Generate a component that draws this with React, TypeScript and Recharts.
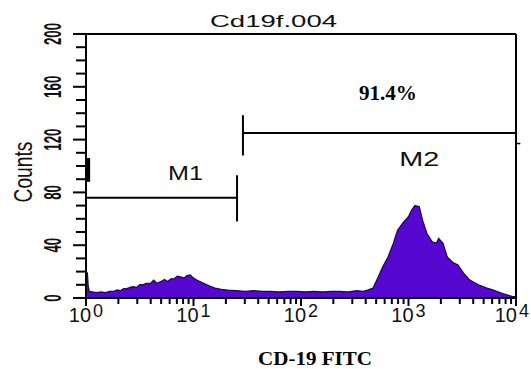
import React from 'react';
import { ComposedChart, Area, XAxis, YAxis, ReferenceLine, ReferenceDot, Label } from 'recharts';

// log10 of FITC channel (10^0 .. 10^4)
const logFluorescence = [
  0.0, 0.012, 0.02, 0.03, 0.06, 0.1, 0.14, 0.18, 0.22, 0.26, 0.29, 0.32, 0.35, 0.38, 0.41, 0.44,
  0.47, 0.5, 0.53, 0.56, 0.6, 0.63, 0.66, 0.7, 0.73, 0.76, 0.79, 0.82, 0.85, 0.88, 0.91, 0.94,
  0.97, 1.0, 1.03, 1.07, 1.11, 1.15, 1.2, 1.26, 1.32, 1.4, 1.48, 1.56, 1.64, 1.72, 1.8, 1.88,
  1.96, 2.04, 2.12, 2.2, 2.28, 2.36, 2.44, 2.52, 2.58, 2.62, 2.67, 2.72, 2.76, 2.81, 2.86, 2.9,
  2.95, 3.0, 3.03, 3.06, 3.1, 3.13, 3.17, 3.22, 3.26, 3.28, 3.32, 3.36, 3.41, 3.46, 3.51, 3.57,
  3.65, 3.73, 3.79, 3.87, 3.93, 3.97, 4.0,
];
const counts = [
  19, 19, 9, 5, 4.5, 4, 4.5, 4, 5, 5, 6, 5.5, 7, 7, 8, 8.5,
  8, 10, 10, 11, 11, 13.5, 11, 12.5, 14, 12.5, 14.5, 14.5, 16.5, 16, 15, 17,
  17.5, 15, 13.5, 12, 10.5, 9, 7.5, 6.5, 6, 5.5, 5, 5.5, 5, 5, 4.5, 5,
  5, 4.5, 5, 4.5, 5, 5, 4.5, 5.5, 5, 6, 7.5, 16, 23.5, 31, 41.5, 51.5,
  57, 61.5, 66.5, 70, 69, 59, 49, 42.5, 41.5, 45, 41.5, 31, 27, 25, 19, 13.5,
  10, 7.5, 6, 3.5, 2, 1, 1,
];

const xDecades = [0, 1, 2, 3, 4];
const xTickExponents = ['0', '1', '2', '3', '4'];
const yTickValues = [0, 10, 20, 30, 40, 50, 60, 70, 80, 90, 100, 110, 120, 130, 140, 150, 160, 170, 180, 190, 200];
const yTickLabels = [0, 40, 80, 120, 160, 200];

const titleText = 'Cd19f.004';
const xAxisTitle = 'CD-19 FITC';
const yAxisTitle = 'Counts';
const m2Percent = '91.4%';

// marker gates: [left, right] in log units and level in counts
const m1Gate = { left: 0, right: 1.405, level: 76 };
const m2Gate = { left: 1.46, right: 4, level: 125 };

const data = logFluorescence.map((x, i) => ({ x, count: counts[i] }));

const xTicks: number[] = [];
xDecades.forEach((d) => {
  xTicks.push(d);
  if (d < 4) for (let k = 2; k <= 9; k++) xTicks.push(d + Math.log10(k));
});

const SANS = 'Liberation Sans, Arial, sans-serif';
const SERIF = 'Liberation Serif, Times New Roman, serif';

const XTick = (props: any) => {
  const { x, y, payload } = props;
  const v = payload.value;
  const idx = xDecades.findIndex((d) => Math.abs(d - v) < 1e-6);
  const major = idx >= 0;
  const last = idx === xDecades.length - 1;
  return (
    <g>
      <line x1={x} x2={x} y1={y} y2={y + (major ? 8 : 6)} stroke="#000" strokeWidth={2} />
      {major && (
        <text
          x={last ? x + 13 : x}
          y={y + 24}
          textAnchor={last ? 'end' : 'middle'}
          fontFamily={SANS}
          fontSize={20}
          fill="#111"
        >
          <tspan>10</tspan>
          <tspan dx={2} dy={-5} fontSize={18}>{xTickExponents[idx]}</tspan>
        </text>
      )}
    </g>
  );
};

const YTick = (props: any) => {
  const { x, y, payload } = props;
  const v = payload.value;
  const major = yTickLabels.includes(v);
  const lx = x - 25;
  return (
    <g>
      <line x1={x - (major ? 13 : 10)} x2={x} y1={y} y2={y} stroke="#000" strokeWidth={2} />
      {major && (
        <text
          x={lx}
          y={y}
          transform={`rotate(-90, ${lx}, ${y})`}
          textAnchor="middle"
          fontFamily={SANS}
          fontSize={24}
          fontWeight="bold"
          textLength={String(v).length * 7.4}
          lengthAdjust="spacingAndGlyphs"
          fill="#111"
        >
          {v}
        </text>
      )}
    </g>
  );
};

const textLabel = (txt: string, opts: any) => (props: any) => {
  const vb = props.viewBox || {};
  const cx = (vb.x ?? 0) + (vb.width ?? 0) / 2;
  const cy = (vb.y ?? 0) + (vb.height ?? 0) / 2;
  return (
    <text x={cx} y={cy} textAnchor="middle" {...opts}>
      {txt}
    </text>
  );
};

export default function App() {
  return (
    <div style={{ position: 'absolute', left: 0, top: 0, width: 531, height: 369, background: '#fff' }}>
      <ComposedChart width={531} height={369} data={data} margin={{ top: 34, right: 15, left: 0, bottom: 0 }}>
        <XAxis
          dataKey="x"
          type="number"
          domain={[0, 4]}
          ticks={xTicks}
          interval={0}
          height={71}
          tickSize={0}
          tickMargin={0}
          tickLine={false}
          axisLine={{ stroke: '#000', strokeWidth: 2 }}
          tick={<XTick />}
          allowDataOverflow
        />
        <YAxis
          type="number"
          domain={[0, 200]}
          ticks={yTickValues}
          interval={0}
          width={86}
          tickSize={0}
          tickMargin={0}
          tickLine={false}
          axisLine={{ stroke: '#000', strokeWidth: 2 }}
          tick={<YTick />}
          allowDataOverflow
        />
        <Area
          type="linear"
          dataKey="count"
          stroke="#24065e"
          strokeWidth={1.4}
          fill="#5608d0"
          fillOpacity={1}
          isAnimationActive={false}
          dot={false}
          activeDot={false}
        />
        {/* frame */}
        <ReferenceLine y={200} stroke="#000" strokeWidth={2} />
        <ReferenceLine x={4} stroke="#000" strokeWidth={2} />
        {/* M1 gate */}
        <ReferenceLine
          segment={[{ x: m1Gate.left, y: m1Gate.level }, { x: m1Gate.right, y: m1Gate.level }]}
          stroke="#000"
          strokeWidth={2}
        />
        <ReferenceLine
          segment={[{ x: m1Gate.right, y: m1Gate.level - 18 }, { x: m1Gate.right, y: m1Gate.level + 17 }]}
          stroke="#000"
          strokeWidth={2}
        />
        <ReferenceLine
          segment={[{ x: 0.02, y: 88 }, { x: 0.02, y: 106 }]}
          stroke="#000"
          strokeWidth={4}
        />
        {/* M2 gate */}
        <ReferenceLine
          segment={[{ x: m2Gate.left, y: m2Gate.level }, { x: m2Gate.right, y: m2Gate.level }]}
          stroke="#000"
          strokeWidth={2}
        />
        <ReferenceLine
          segment={[{ x: m2Gate.left, y: m2Gate.level - 17 }, { x: m2Gate.left, y: m2Gate.level + 13.5 }]}
          stroke="#000"
          strokeWidth={2}
        />
        <ReferenceLine
          segment={[{ x: m2Gate.right, y: 117 }, { x: m2Gate.right + 0.04, y: 117 }]}
          stroke="#000"
          strokeWidth={1.5}
          ifOverflow="visible"
        />
        <ReferenceDot x={0.926} y={89.4} r={0} stroke="none" fill="none" ifOverflow="visible">
          <Label content={textLabel('M1', { fontFamily: SANS, fontSize: 20, fill: '#111', textLength: 35, lengthAdjust: 'spacingAndGlyphs' })} />
        </ReferenceDot>
        <ReferenceDot x={3.1} y={100} r={0} stroke="none" fill="none" ifOverflow="visible">
          <Label content={textLabel('M2', { fontFamily: SANS, fontSize: 20, fill: '#111', textLength: 40, lengthAdjust: 'spacingAndGlyphs' })} />
        </ReferenceDot>
        <ReferenceDot x={2.809} y={150} r={0} stroke="none" fill="none" ifOverflow="visible">
          <Label content={textLabel(m2Percent, { fontFamily: SERIF, fontWeight: 'bold', fontSize: 22, fill: '#000', textLength: 58, lengthAdjust: 'spacingAndGlyphs' })} />
        </ReferenceDot>
        <text x={273.5} y={27} textAnchor="middle" fontFamily={SANS} fontSize={17} fill="#111" textLength={127} lengthAdjust="spacingAndGlyphs">
          {titleText}
        </text>
        <text
          x={32}
          y={172}
          transform="rotate(-90, 32, 172)"
          textAnchor="middle"
          fontFamily={SANS}
          fontSize={26}
          fill="#111"
          textLength={61}
          lengthAdjust="spacingAndGlyphs"
        >
          {yAxisTitle}
        </text>
        <text x={315} y={365} textAnchor="middle" fontFamily={SERIF} fontWeight="bold" fontSize={19} fill="#000" textLength={114} lengthAdjust="spacingAndGlyphs">
          {xAxisTitle}
        </text>
      </ComposedChart>
    </div>
  );
}
